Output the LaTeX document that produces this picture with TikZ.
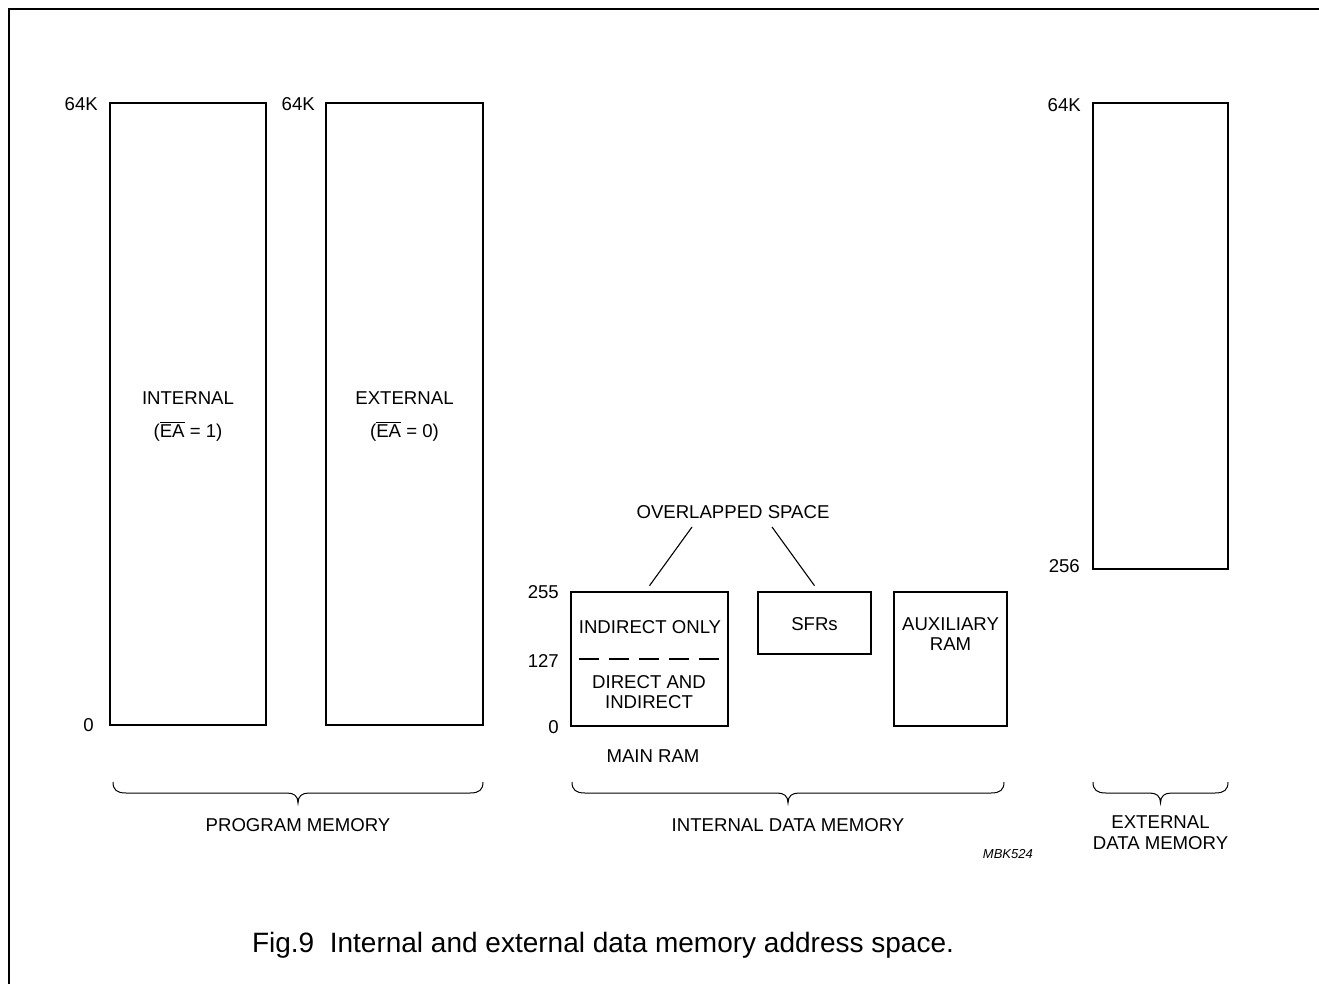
\documentclass[tikz,border=0pt]{standalone}
\usepackage{fontspec}
\setmainfont{Liberation Sans}
% bar over a signal name (active-low pin)
\newcommand\activelow[1]{\vbox{\hrule height 0.9pt\kern 1.6pt\hbox{#1}}}
% curly brace spanning #1..#2 under a group of memory blocks
\newcommand\spanbrace[2]{%
  \pgfmathsetmacro\bracemid{(#1+#2)/2}%
  \draw[brace line] (#1,782) .. controls (#1,790) and ({#1+4},793) .. ({#1+13},793)
    -- ({\bracemid-11},793) .. controls ({\bracemid-4},793) and (\bracemid,796) .. (\bracemid,803)
    .. controls (\bracemid,796) and ({\bracemid+4},793) .. ({\bracemid+11},793)
    -- ({#2-13},793) .. controls ({#2-4},793) and (#2,790) .. (#2,782);}
\begin{document}
\begin{tikzpicture}[x=1pt,y=-1pt,
  membox/.style={draw, line width=2.6pt, inner sep=0pt},
  lbl/.style={inner sep=0pt, anchor=base, font=\fontsize{18.6}{21}\selectfont},
  addr/.style={lbl, anchor=base east},
  brace line/.style={line width=1pt},
  leader/.style={line width=1.1pt},
  ramdash/.style={line width=2pt, dash pattern=on 20pt off 10pt}]
\useasboundingbox (0,0) rectangle (1319,984);
\fill[white] (0,0) rectangle (1319,984);
% page frame
\draw[line width=2pt] (1319,9) -- (9,9) -- (9,984);

% program memory
\node[membox, minimum width=156pt, minimum height=622pt] (pint) at (188,414) {};
\node[membox, minimum width=157pt, minimum height=622pt] (pext) at (404.5,414) {};
\node[addr] (pint64) at (98,111) {64K};
\node[addr] (pint0) at (94,731) {0};
\node[addr] (pext64) at (315,111) {64K};
\node[lbl] (tint) at (188,404) {INTERNAL};
\node[lbl] (tinta) at (188,437) {(\activelow{EA} = 1)};
\node[lbl] (text) at (404.5,404) {EXTERNAL};
\node[lbl] (texta) at (404.5,437) {(\activelow{EA} = 0)};

% internal data memory
\node[membox, minimum width=157pt, minimum height=134pt] (mainram) at (649.5,659) {};
\node[membox, minimum width=113pt, minimum height=62pt] (sfr) at (814.5,623) {};
\node[membox, minimum width=113pt, minimum height=134pt] (aux) at (950.5,659) {};
\draw[ramdash] ([xshift=9pt]mainram.west) -- ([xshift=-8pt]mainram.east);
\node[addr] (a255) at (559,598) {255};
\node[addr] (a127) at (559,667) {127};
\node[addr] (a0) at (559,733) {0};
\node[lbl] (tind) at (650,633) {INDIRECT ONLY};
\node[lbl] (tdir1) at (649,688) {DIRECT AND};
\node[lbl] (tdir2) at (649,708) {INDIRECT};
\node[lbl] (tmain) at (653,762) {MAIN RAM};
\node[lbl] (tsfr) at (814.5,630) {SFRs};
\node[lbl] (taux1) at (950.5,630) {AUXILIARY};
\node[lbl] (taux2) at (950.5,650) {RAM};
\node[lbl] (tovl) at (733,518) {OVERLAPPED SPACE};
\coordinate (ovlL) at (692,527);
\coordinate (ovlR) at (772,527);
\draw[leader] (ovlL) -- ([yshift=5pt]mainram.north);
\draw[leader] (ovlR) -- ([yshift=5pt]sfr.north);

% external data memory
\node[membox, minimum width=135pt, minimum height=466pt] (extd) at (1160.5,336) {};
\node[addr] (e64) at (1081,112) {64K};
\node[addr] (e256) at (1080,572) {256};

% group braces and names
\spanbrace{113}{483}
\spanbrace{572}{1004}
\spanbrace{1093}{1228}
\node[lbl] (gprog) at (298,831) {PROGRAM MEMORY};
\node[lbl] (gint) at (788,831) {INTERNAL DATA MEMORY};
\node[lbl] (gext1) at (1160.5,828) {EXTERNAL};
\node[lbl] (gext2) at (1160.5,849) {DATA MEMORY};
\node[inner sep=0pt, anchor=base east, font=\fontsize{13}{15}\selectfont\itshape] (code) at (1033,858) {MBK524};

% caption
\node[inner sep=0pt, anchor=base, font=\fontsize{28}{32}\selectfont] (caption) at (603,952) {Fig.9\ \ Internal and external data memory address space.};
\end{tikzpicture}
\end{document}
